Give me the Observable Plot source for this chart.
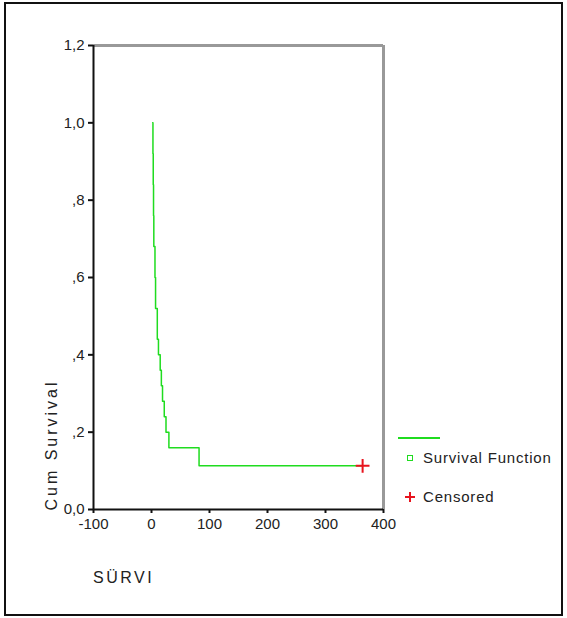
<!DOCTYPE html>
<html><head><meta charset="utf-8">
<script src="https://cdn.jsdelivr.net/npm/d3@7"></script>
<script src="https://cdn.jsdelivr.net/npm/@observablehq/plot@0.6"></script>
<style>
body{margin:0;background:#fff;}
#wrap{position:relative;width:567px;height:618px;font-family:"Liberation Sans",Arial,sans-serif;color:#222;overflow:hidden;}
#frame{position:absolute;left:4px;top:2px;width:559px;height:614px;border:2px solid #111;box-sizing:border-box;pointer-events:none;}
#chart{position:absolute;left:0;top:0;}
.lab{position:absolute;white-space:nowrap;font-size:15px;line-height:18px;}
</style>
</head><body>
<div id="wrap"><div id="chart"></div><div id="frame"></div></div>
<script>
// Kaplan-Meier survival steps (time, cumulative survival)
const times    = [2, 2.5, 3, 3.5, 4, 6, 7, 10, 12, 15, 17, 19, 22, 25, 30, 82, 364];
const survival = [1.0, 0.92, 0.84, 0.76, 0.68, 0.60, 0.52, 0.44, 0.40, 0.36, 0.32, 0.28, 0.24, 0.20, 0.16, 0.113, 0.113];
const censoredTimes = [364];
const censoredSurvival = [0.113];

const xTicks = [-100, 0, 100, 200, 300, 400];
const xTickLabels = ["-100", "0", "100", "200", "300", "400"];
const yTicks = [0, 0.2, 0.4, 0.6, 0.8, 1.0, 1.2];
const yTickLabels = ["0,0", ",2", ",4", ",6", ",8", "1,0", "1,2"];

const xLabel = "SÜRVI";
const yLabel = "Cum Survival";
const legendLabels = ["Survival Function", "Censored"];

const curve = times.map((t, i) => ({t, s: survival[i]}));
const cens = censoredTimes.map((t, i) => ({t, s: censoredSurvival[i]}));

const green = "#1fdc1f";
const plot = Plot.plot({
  width: 567, height: 618,
  marginLeft: 93, marginRight: 184, marginTop: 45, marginBottom: 109,
  style: {fontFamily: "Liberation Sans, Arial, sans-serif", fontSize: "15px", color: "#222", background: "transparent"},
  x: {domain: [-100, 400]},
  y: {domain: [0, 1.2]},
  marks: [
    Plot.ruleY([1.2], {stroke: "#999", strokeWidth: 3}),
    Plot.ruleX([400], {stroke: "#999", strokeWidth: 3}),
    Plot.ruleX([-100], {stroke: "#111", strokeWidth: 2}),
    Plot.ruleY([0], {stroke: "#111", strokeWidth: 2}),
    Plot.axisY({ticks: yTicks, tickFormat: d => yTickLabels[yTicks.indexOf(d)], tickSize: 5, tickPadding: 4, stroke: "#111", strokeWidth: 2, label: null, fontSize: 15}),
    Plot.axisX({ticks: xTicks, tickFormat: d => xTickLabels[xTicks.indexOf(d)], tickSize: 4, tickPadding: 5, stroke: "#111", strokeWidth: 2, label: null, fontSize: 15}),
    Plot.line(curve, {x: "t", y: "s", curve: "step-after", stroke: green, strokeWidth: 1.5}),
    Plot.dot(cens, {x: "t", y: "s", symbol: "plus", r: 4.5, stroke: "#e8141e", strokeWidth: 2})
  ]
});
document.getElementById("chart").appendChild(plot);

const wrap = document.getElementById("wrap");
function addLabel(text, css) {
  const d = document.createElement("div");
  d.className = "lab";
  d.textContent = text;
  Object.assign(d.style, css);
  wrap.appendChild(d);
  return d;
}
addLabel(yLabel, {left: "52px", top: "445px", transform: "translate(-50%,-50%) rotate(-90deg)", letterSpacing: "3px", fontSize: "16px"});
addLabel(xLabel, {left: "93px", top: "569px", letterSpacing: "2.5px", fontSize: "16px"});

// legend
const ln = document.createElement("div");
Object.assign(ln.style, {position: "absolute", left: "398px", top: "437px", width: "42px", height: "2px", background: green});
wrap.appendChild(ln);
const sq = document.createElement("div");
Object.assign(sq.style, {position: "absolute", left: "407px", top: "455px", width: "6px", height: "6px", border: "1.5px solid " + green, boxSizing: "border-box"});
wrap.appendChild(sq);
const pl = document.createElementNS("http://www.w3.org/2000/svg", "svg");
pl.setAttribute("width", 12); pl.setAttribute("height", 12);
Object.assign(pl.style, {position: "absolute", left: "404px", top: "491px"});
pl.innerHTML = '<path d="M6,1V11M1,6H11" stroke="#e8141e" stroke-width="2"/>';
wrap.appendChild(pl);
addLabel(legendLabels[0], {left: "423px", top: "449px", letterSpacing: "0.8px"});
addLabel(legendLabels[1], {left: "423px", top: "488px", letterSpacing: "0.8px"});
</script>
</body></html>
